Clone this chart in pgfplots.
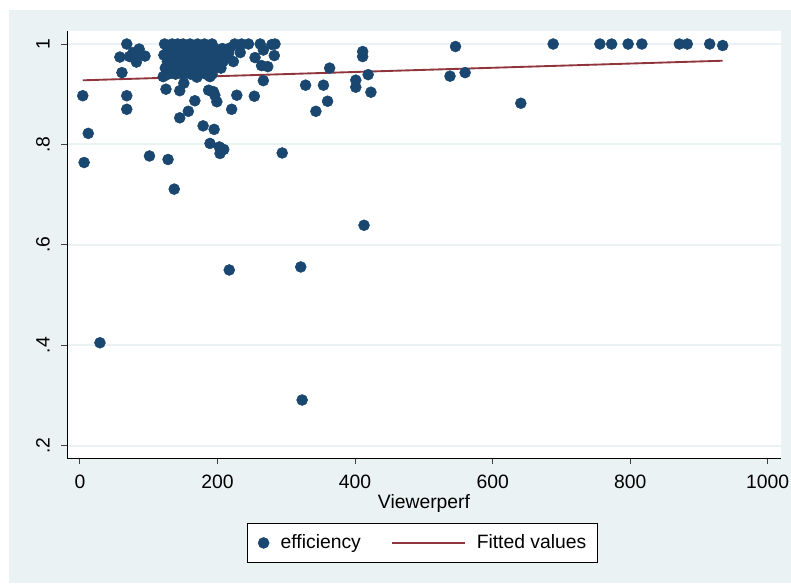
\documentclass[border=0pt]{standalone}
\usepackage{fontspec}
\setmainfont{Liberation Sans}
\usepackage{pgfplots}
\pgfplotsset{compat=1.18}
\definecolor{stbg}{RGB}{234,242,243}
\definecolor{stnavy}{RGB}{26,71,111}
\definecolor{stmaroon}{RGB}{144,53,59}
\pgfplotsset{
  dotleg/.style={legend image code/.code={\path[draw=none,fill=none] (0pt,-4.5pt) rectangle (9pt,4.5pt); \draw[##1] plot coordinates {(4.5pt,0pt)};}},
  lineleg/.style={legend image code/.code={\draw[##1] (0pt,0pt) -- (54.75pt,0pt);}},
}
\begin{document}
\begin{tikzpicture}
\useasboundingbox (0,0) rectangle (593.25pt,437.25pt);
\fill[stbg] (6.75pt,0) rectangle (593.25pt,429.75pt);
\begin{axis}[
  at={(50.25pt,93.75pt)}, anchor=south west,
  width=535.5pt, height=320.25pt, scale only axis,
  xmin=-18.9, xmax=1019.3, ymin=0.1755, ymax=1.0259,
  axis lines*=left,
  axis line style={line width=0.75pt, black},
  axis background/.style={fill=white},
  xtick={0,200,400,600,800,1000}, xticklabels={0,200,400,600,800,1000},
  ytick={0.2,0.4,0.6,0.8,1}, yticklabels={.2,.4,.6,.8,1},
  tick align=outside, major tick length=4.5pt,
  tick style={line width=0.75pt, black!75},
  ymajorgrids, grid style={line width=1.5pt, stbg},
  every tick label/.append style={font=\fontsize{14.5}{17}\selectfont, black},
  xticklabel style={anchor=base, yshift=-18pt},
  yticklabel style={xshift=-8.5pt, rotate=90, anchor=base},
  xlabel={Viewerperf},
  xlabel style={at={(axis description cs:0.5,0)}, anchor=base, yshift=-37.5pt, font=\fontsize{14.5}{17}\selectfont},
  legend style={at={(axis description cs:0.5,0)}, anchor=north, yshift=-48.75pt, xshift=-1.5pt,
    draw=black, fill=white, font=\fontsize{14.5}{17}\selectfont,
    inner xsep=8pt, inner ysep=8.75pt, nodes={inner sep=0pt},
    /tikz/every odd column/.append style={column sep=8.25pt},
    /tikz/every even column/.append style={column sep=22.5pt}},
  legend columns=2,
]
\addplot[only marks, mark=*, mark size=4.1pt, mark options={fill=stnavy, draw=stnavy, line width=0.4pt}, dotleg]
  coordinates {
  (4,0.897) (12,0.822) (6,0.764) (29,0.405) (68,1.0) (58,0.974) (72,0.975) (82,0.981)
  (86,0.990) (94.5,0.976) (82,0.964) (77,0.983) (61,0.943) (68,0.897) (68,0.870)
  (101,0.777) (128,0.770) (137,0.711)
  (123,1) (134,1) (142,1) (150,1) (160,1) (171,1) (181,1) (192,1)
  (128,0.99) (138,0.99) (147,0.99) (156,0.99) (166,0.99) (176,0.99) (186,0.99) (197,0.99) (207,0.991)
  (122,0.978) (133,0.978) (143,0.978) (152,0.978) (162,0.978) (172,0.978) (183,0.978) (193,0.978) (203,0.978) (213,0.978)
  (127,0.965) (137,0.965) (148,0.965) (157,0.965) (167,0.965) (178,0.965) (188,0.965) (198,0.965) (208,0.965)
  (124,0.952) (134,0.952) (144,0.952) (154,0.952) (164,0.952) (175,0.952) (186,0.952) (196,0.952) (205,0.952)
  (128,0.94) (139,0.94) (150,0.94) (161,0.94) (172,0.94) (183,0.94) (192,0.94) (121,0.935)
  (125,0.910) (145,0.907) (151,0.922) (170,0.934) (189,0.935) (187,0.908) (194,0.905)
  (196,0.898) (199,0.885) (167,0.887) (157.5,0.866) (145,0.853) (179,0.837) (195,0.830)
  (189,0.802) (202.6,0.795) (209,0.790) (203.6,0.782) (228,0.898) (220.5,0.870)
  (253.5,0.896) (266.6,0.927) (217,0.550)
  (225,1) (235,1) (245,1) (262,1) (283.5,1) (279,0.999) (266.6,0.988) (223,0.965)
  (254.5,0.973) (282.5,0.977) (264,0.957) (273,0.955) (216,0.981) (218,0.992) (233,0.983)
  (294,0.783) (321,0.556) (323,0.291) (328,0.918) (343,0.866) (354,0.918) (360,0.886)
  (363,0.952) (401,0.928) (401,0.914) (411,0.985) (411,0.975) (413,0.639) (419,0.939)
  (423,0.904) (538,0.936) (546,0.995) (560,0.943) (641,0.882) (688,1) (756,1) (773,1)
  (797,1) (817,1) (871.5,1) (883,1) (915.6,1) (934.5,0.997)
  };
\addlegendentry{efficiency}
\addplot[stmaroon, line width=1.4pt, lineleg]
  coordinates {(4,0.9277) (934.5,0.9667)};
\addlegendentry{Fitted values}
\end{axis}
\end{tikzpicture}
\end{document}
